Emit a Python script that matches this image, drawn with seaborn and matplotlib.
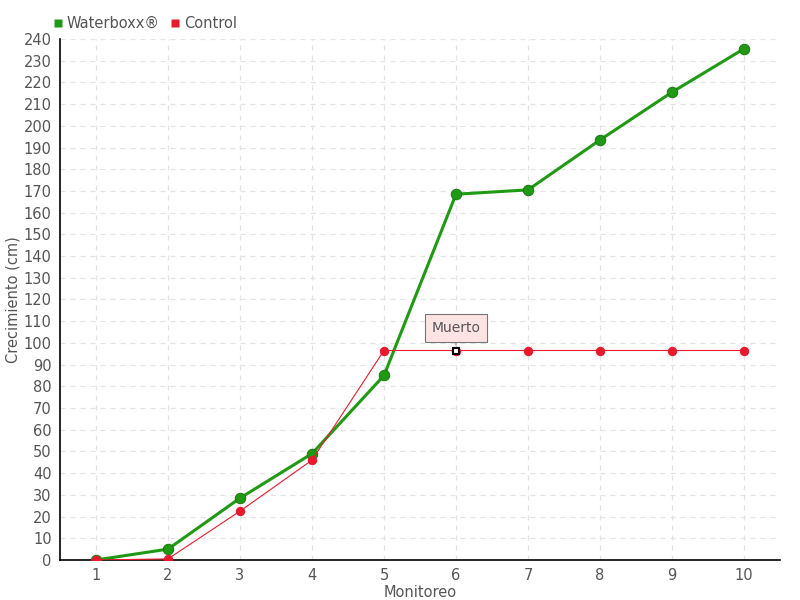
import numpy as np
import pandas as pd
import matplotlib
matplotlib.use("Agg")
import matplotlib.pyplot as plt
import seaborn as sns
from matplotlib.lines import Line2D

# data
monitoreo = [1, 2, 3, 4, 5, 6, 7, 8, 9, 10]
waterboxx = [0, 5, 28.5, 49, 85, 168.5, 170.5, 193.5, 215.5, 235.5]
control = [0, 0.5, 22.5, 46, 96.5, 96.5, 96.5, 96.5, 96.5, 96.5]
yticks = list(range(0, 241, 10))

df = pd.DataFrame({"Monitoreo": monitoreo, "Waterboxx®": waterboxx, "Control": control})

sns.set_style("white")
plt.rcParams['font.family'] = ['DejaVu Sans']
text_col = "#555555"

fig = plt.figure(figsize=(8, 6), dpi=100)
ax = fig.add_axes([0.075, 0.0667, 0.9, 0.8683])

sns.lineplot(data=df, x="Monitoreo", y="Waterboxx®", ax=ax, color="#1f9a12",
             linewidth=2.2, marker="o", markersize=7.5, markerfacecolor="#1f9a12",
             markeredgecolor="#197a10", zorder=3)
sns.lineplot(data=df, x="Monitoreo", y="Control", ax=ax, color="#f0192d",
             linewidth=0.8, marker="o", markersize=6, markerfacecolor="#e8192c",
             markeredgecolor="#e8192c", zorder=4)

# the dead point
ax.plot(monitoreo[5], control[5], marker="s", markersize=5, markerfacecolor="white",
        markeredgecolor="black", markeredgewidth=1.5, zorder=6, linestyle="none")
ax.annotate("Muerto", xy=(monitoreo[5], control[5]), xytext=(0, 16),
            textcoords="offset points", ha="center", va="center",
            fontsize=10, color=text_col,
            bbox=dict(boxstyle="square,pad=0.5", fc="#fde3e3", ec="#777777", lw=0.8),
            arrowprops=dict(arrowstyle="-", color="#777777", lw=0.8,
                            shrinkA=0, shrinkB=4),
            zorder=7)

ax.set_xlim(0.5, 10.5)
ax.set_ylim(0, 240)
ax.set_xticks(monitoreo)
ax.set_yticks(yticks)
ax.grid(True, color="#e3e3e3", linestyle=(0, (4, 4)), linewidth=0.9)
ax.set_axisbelow(True)
for s in ["top", "right"]:
    ax.spines[s].set_visible(False)
for s in ["left", "bottom"]:
    ax.spines[s].set_color("black")
    ax.spines[s].set_linewidth(1.2)
ax.tick_params(axis="both", colors="black", labelcolor=text_col, labelsize=10.5,
               length=5, width=1, direction="inout")
ax.set_xlabel("Monitoreo", color=text_col, fontsize=10.5, labelpad=1)
ax.set_ylabel("Crecimiento (cm)", color=text_col, fontsize=10.5, labelpad=2)

# legend
handles = [Line2D([], [], marker="s", color="none", markerfacecolor="#1f9a12",
                  markeredgecolor="none", markersize=6),
           Line2D([], [], marker="s", color="none", markerfacecolor="#e8192c",
                  markeredgecolor="none", markersize=6)]
fig.legend(handles, ["Waterboxx®", "Control"], loc="upper left",
           bbox_to_anchor=(0.05, 0.995), ncol=2, frameon=False, fontsize=10.5,
           handlelength=0.6, handletextpad=0.3, columnspacing=0.8,
           labelcolor=text_col)

fig.savefig("out.png", dpi=100)
